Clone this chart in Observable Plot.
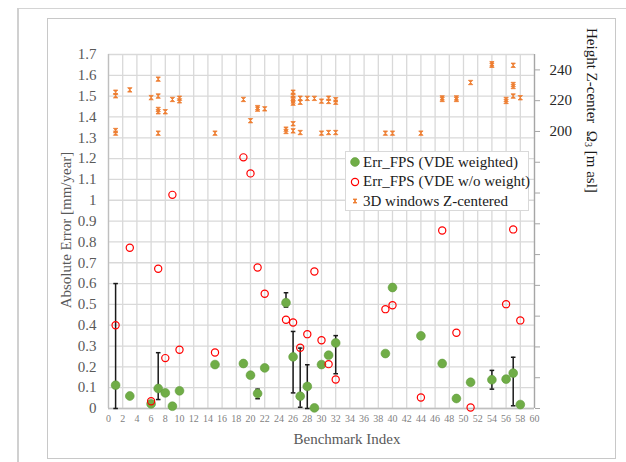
<!DOCTYPE html>
<html>
<head>
<meta charset="utf-8">
<script src="https://cdn.jsdelivr.net/npm/d3@7"></script>
<script src="https://cdn.jsdelivr.net/npm/@observablehq/plot@0.6"></script>
<style>
  html, body { margin: 0; padding: 0; background: #fff; }
  #wrap { position: relative; width: 626px; height: 462px; font-family: "Liberation Serif", "DejaVu Serif", serif; overflow: hidden; }
  #wrap svg.plotsvg { position: absolute; left: 0; top: 0; }
  .abs { position: absolute; white-space: nowrap; }
  .legend-row { position: absolute; left: 0; height: 20px; display: flex; align-items: center; font-size: 15px; color: #1a1a1a; }
</style>
</head>
<body>
<div id="wrap">
  <div class="abs" style="left:17px;top:8px;width:609px;height:1px;background:#d4d4d4;"></div>
  <div class="abs" style="left:17px;top:8px;width:2px;height:454px;background:#d0d0d0;"></div>
  <div class="abs" style="left:47px;top:18px;width:567px;height:439px;border:1px solid #c8c8c8;"></div>
</div>
<script>
// ---- Data ----
const xTicks = [0,2,4,6,8,10,12,14,16,18,20,22,24,26,28,30,32,34,36,38,40,42,44,46,48,50,52,54,56,58,60];
const yTicks = [0,0.1,0.2,0.3,0.4,0.5,0.6,0.7,0.8,0.9,1,1.1,1.2,1.3,1.4,1.5,1.6,1.7];
const rightTicks = [20,40,60,80,100,120,140,160,180,200,220,240];
const rightLabels = [200,220,240];
const rightMin = 20, rightMax = 250, leftMax = 1.7;

// Err_FPS (VDE weighted)
const wIdx = [1,3,6,7,8,9,10,15,19,20,21,22,25,26,27,28,29,30,31,32,39,40,44,47,49,51,54,56,57,58];
const wErr = [0.112,0.06,0.022,0.096,0.075,0.011,0.085,0.211,0.216,0.16,0.072,0.195,0.508,0.248,0.059,0.106,0.003,0.211,0.256,0.315,0.264,0.581,0.349,0.216,0.048,0.126,0.138,0.141,0.17,0.019];

// Err_FPS (VDE w/o weight)
const uIdx = [1,3,6,7,8,9,10,15,19,20,21,22,25,26,27,28,29,30,31,32,39,40,44,47,49,51,56,57,58];
const uErr = [0.40,0.772,0.035,0.671,0.242,1.026,0.282,0.269,1.206,1.129,0.677,0.551,0.426,0.413,0.292,0.357,0.658,0.328,0.213,0.139,0.477,0.496,0.053,0.855,0.364,0.005,0.501,0.86,0.423];

// Error bars on weighted series
const ebIdx = [1,7,21,25,26,27,28,32,54,57];
const ebLo  = [0,0.043,0.047,0.487,0.075,0.006,0,0.167,0.093,0.013];
const ebHi  = [0.60,0.268,0.093,0.556,0.37,0.29,0.21,0.35,0.183,0.246];

// 3D windows Z-centered (right axis, m asl)
const hIdx = [1,1,1,1,3,6,7,7,7,7,7,8,9,10,10,15,19,20,21,21,22,25,25,26,26,26,26,26,26,26,27,27,27,28,29,30,30,31,31,31,32,32,32,39,40,44,47,47,49,49,51,54,54,56,56,57,57,57,57,58];
const hVal = [225.5,223.2,200.6,198.9,227,222,234,223,214.3,212.8,198.9,212.8,220.8,221.6,219.9,198.9,220.8,207,215.5,214.5,214.7,201.5,200,225.5,223.5,221.5,219.8,218.4,205,200.4,221.6,219,199.3,221.5,221.5,219.7,198.9,221.6,219.5,199.3,220.6,219,199.3,198.9,198.9,198.9,221.8,220.8,221.8,220.8,231.8,244,243,220.8,219.5,243,230.5,229.2,223,221.9];

// ---- Build tables ----
const toLeft = v => (v - rightMin) / (rightMax - rightMin) * leftMax;
const fromLeft = y => rightMin + y / leftMax * (rightMax - rightMin);
const wData = wIdx.map((x, i) => ({x, y: wErr[i]}));
const uData = uIdx.map((x, i) => ({x, y: uErr[i]}));
const ebData = ebIdx.map((x, i) => ({x, lo: ebLo[i], hi: ebHi[i]}));
const capData = ebData.flatMap(d => [{x: d.x, y: d.lo}, {x: d.x, y: d.hi}]);
const hData = hIdx.map((x, i) => ({x, h: hVal[i]}));

const capSymbol = { draw(ctx, size) { const r = Math.sqrt(size / Math.PI); ctx.moveTo(-r, 0); ctx.lineTo(r, 0); } };
const starSymbol = { draw(ctx, size) { const s = Math.sqrt(size / Math.PI); ctx.moveTo(-s, -s); ctx.lineTo(s, -s); ctx.lineTo(-s, s); ctx.lineTo(s, s); ctx.closePath(); } };

const gridStyle = {stroke: "#d9d9d9", strokeOpacity: 1, strokeWidth: 1.3};
const serif = "'Liberation Serif', 'DejaVu Serif', serif";

const chart = Plot.plot({
  width: 626,
  height: 462,
  marginLeft: 108,
  marginRight: 92,
  marginTop: 54,
  marginBottom: 54,
  style: {fontFamily: serif, background: "transparent", overflow: "visible"},
  x: {domain: [0, 60]},
  y: {domain: [0, leftMax]},
  marks: [
    Plot.gridX({ticks: xTicks, ...gridStyle}),
    Plot.gridY({ticks: yTicks, ...gridStyle}),
    Plot.ruleX([0], {stroke: "#bfbfbf", strokeWidth: 1.3}),
    Plot.ruleY([0], {stroke: "#bfbfbf", strokeWidth: 1.3}),
    Plot.ruleX([60], {stroke: "#a6a6a6", strokeWidth: 1.3}),
    Plot.axisX({ticks: xTicks, tickSize: 0, tickPadding: 6, fontSize: 10, fill: "#7f7f7f", label: null}),
    Plot.axisY({ticks: yTicks, tickSize: 0, tickPadding: 12, fontSize: 15, fill: "#595959", label: null,
      tickFormat: d => String(+d.toFixed(1))}),
    Plot.axisY({anchor: "right", ticks: rightTicks.map(toLeft), tickSize: 5, tickPadding: 10, fontSize: 15,
      fill: "#262626", stroke: "#a6a6a6", label: null,
      tickFormat: d => { const v = Math.round(fromLeft(d)); return rightLabels.includes(v) ? String(v) : ""; }}),
    Plot.ruleX(ebData, {x: "x", y1: "lo", y2: "hi", stroke: "#1a1a1a", strokeWidth: 1.5}),
    Plot.dot(capData, {x: "x", y: "y", symbol: capSymbol, r: 2.3, stroke: "#1a1a1a", strokeWidth: 1.5}),
    Plot.dot(wData, {x: "x", y: "y", r: 4.4, fill: "#70AD47", stroke: "#5f9a3a", strokeWidth: 0.6}),
    Plot.dot(uData, {x: "x", y: "y", r: 3.6, fill: "none", stroke: "#ff0000", strokeWidth: 1.2}),
    Plot.dot(hData, {x: "x", y: d => toLeft(d.h), symbol: starSymbol, r: 2.2, fill: "#ED7D31", stroke: "#ED7D31", strokeWidth: 0.8})
  ]
});
chart.classList.add("plotsvg");
chart.querySelectorAll("text").forEach(t => t.style.fontFamily = serif);
const wrap = document.getElementById("wrap");
wrap.appendChild(chart);

// Axis titles
const leftTitle = document.createElement("div");
leftTitle.className = "abs";
leftTitle.style.cssText = "left:66px;top:230px;transform:translate(-50%,-50%) rotate(-90deg);font-size:15px;color:#595959;";
leftTitle.textContent = "Absolute Error [mm/year]";
wrap.appendChild(leftTitle);

const xTitle = document.createElement("div");
xTitle.className = "abs";
xTitle.style.cssText = "left:347px;top:439px;transform:translate(-50%,-50%);font-size:15px;color:#595959;";
xTitle.textContent = "Benchmark Index";
wrap.appendChild(xTitle);

const rTitle = document.createElement("div");
rTitle.className = "abs";
rTitle.style.cssText = "left:580px;top:28px;writing-mode:vertical-rl;font-size:15px;line-height:16px;color:#1a1a1a;";
rTitle.innerHTML = "Height Z-center&nbsp;&nbsp;Ω<sub style='font-size:10px'>3</sub> [m asl]";
wrap.appendChild(rTitle);

// Legend
const legendItems = [
  {label: "Err_FPS (VDE weighted)", marker: '<circle cx="5" cy="6" r="4.4" fill="#70AD47" stroke="#5f9a3a" stroke-width="0.6"/>'},
  {label: "Err_FPS (VDE w/o weight)", marker: '<circle cx="5" cy="6" r="3.6" fill="none" stroke="#ff0000" stroke-width="1.2"/>'},
  {label: "3D windows Z-centered", marker: '<path d="M3,4L7,4L3,8L7,8Z" fill="#ED7D31" stroke="#ED7D31" stroke-width="0.8"/>'}
];
const legend = document.createElement("div");
legend.className = "abs";
legend.style.cssText = "left:345px;top:151px;width:182px;height:58px;border:1px solid #d9d9d9;background:#fff;";
legendItems.forEach((it, i) => {
  const row = document.createElement("div");
  row.className = "legend-row";
  row.style.top = (i * 19.5) + "px";
  row.style.left = "4px";
  row.innerHTML = `<svg width="11" height="12" style="margin-right:2px">${it.marker}</svg><span>${it.label}</span>`;
  legend.appendChild(row);
});
wrap.appendChild(legend);
</script>
</body>
</html>
